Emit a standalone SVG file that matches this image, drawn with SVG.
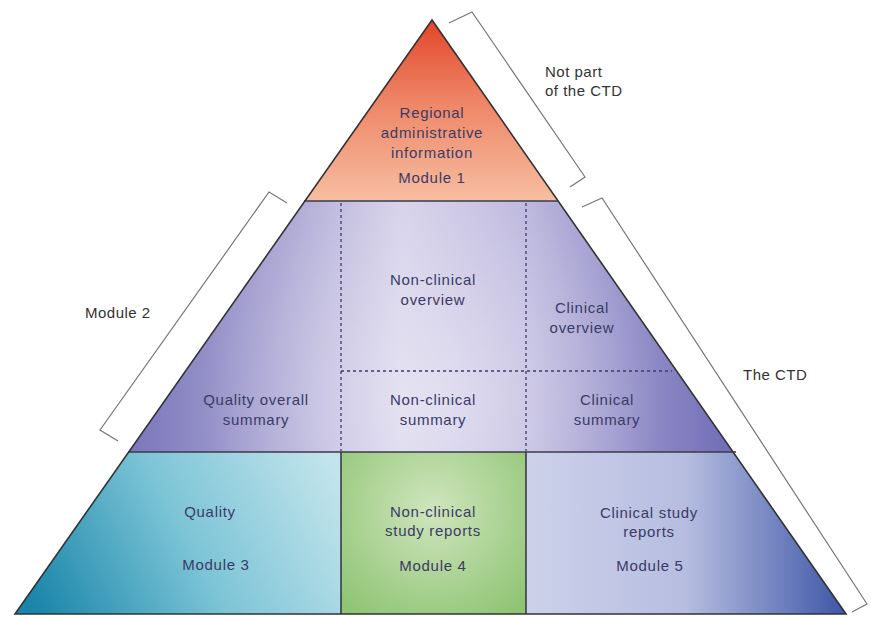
<svg xmlns="http://www.w3.org/2000/svg" width="871" height="617" viewBox="0 0 871 617">
<defs>
  <clipPath id="tri"><polygon points="432,20 15,614 846,614"/></clipPath>
  <linearGradient id="gTop" x1="0" y1="20" x2="0" y2="201" gradientUnits="userSpaceOnUse">
    <stop offset="0" stop-color="#e2452a"/>
    <stop offset="0.45" stop-color="#ee8566"/>
    <stop offset="1" stop-color="#f7bea1"/>
  </linearGradient>
  <linearGradient id="gMid" x1="128" y1="0" x2="736" y2="0" gradientUnits="userSpaceOnUse">
    <stop offset="0" stop-color="#7a76ba"/>
    <stop offset="0.25" stop-color="#aba6d3"/>
    <stop offset="0.45" stop-color="#d6d2ea"/>
    <stop offset="0.65" stop-color="#bdb8de"/>
    <stop offset="1" stop-color="#6f6bb5"/>
  </linearGradient>
  <radialGradient id="gMidHi" cx="430" cy="400" r="230" gradientUnits="userSpaceOnUse">
    <stop offset="0" stop-color="#f0eef7" stop-opacity="0.6"/>
    <stop offset="1" stop-color="#f0eef7" stop-opacity="0"/>
  </radialGradient>
  <linearGradient id="gQ" x1="40" y1="614" x2="330" y2="460" gradientUnits="userSpaceOnUse">
    <stop offset="0" stop-color="#1a86aa"/>
    <stop offset="0.5" stop-color="#7cc4d6"/>
    <stop offset="1" stop-color="#c3e4ec"/>
  </linearGradient>
  <radialGradient id="gN" cx="433" cy="510" r="130" gradientUnits="userSpaceOnUse">
    <stop offset="0" stop-color="#cfe5bd"/>
    <stop offset="1" stop-color="#8fc473"/>
  </radialGradient>
  <linearGradient id="gC" x1="526" y1="0" x2="846" y2="0" gradientUnits="userSpaceOnUse">
    <stop offset="0" stop-color="#cdd2ea"/>
    <stop offset="0.5" stop-color="#b6bde0"/>
    <stop offset="1" stop-color="#3d56a6"/>
  </linearGradient>
</defs>
<style>
  .t{font-family:"Liberation Sans",Arial,sans-serif;font-size:15px;letter-spacing:0.7px;fill:#3a3b66;text-anchor:middle}
  .o{font-family:"Liberation Sans",Arial,sans-serif;font-size:15px;letter-spacing:0.5px;fill:#333}
  .dash{stroke:#3d3d66;stroke-width:1.3;stroke-dasharray:3 3;fill:none}
  .line{stroke:#3a3a4a;stroke-width:1.6;fill:none}
  .br{stroke:#777;stroke-width:1.2;fill:none}
</style>
<rect width="871" height="617" fill="#ffffff"/>

<g clip-path="url(#tri)">
  <g id="module1"><rect x="0" y="0" width="871" height="201" fill="url(#gTop)"/></g>
  <g id="module2">
    <rect x="0" y="201" width="871" height="251" fill="url(#gMid)"/>
    <rect x="0" y="201" width="871" height="251" fill="url(#gMidHi)"/>
  </g>
  <g id="module3"><rect x="0" y="452" width="341" height="165" fill="url(#gQ)"/></g>
  <g id="module4"><rect x="341" y="452" width="185" height="165" fill="url(#gN)"/></g>
  <g id="module5"><rect x="526" y="452" width="345" height="165" fill="url(#gC)"/></g>
</g>

<g id="connectors">
  <line class="line" x1="304" y1="201" x2="558" y2="201"/>
  <line class="line" x1="128" y1="452" x2="736" y2="452"/>
  <line class="line" x1="341" y1="452" x2="341" y2="614"/>
  <line class="line" x1="526" y1="452" x2="526" y2="614"/>
  <line class="dash" x1="341" y1="203" x2="341" y2="451"/>
  <line class="dash" x1="526" y1="203" x2="526" y2="451"/>
  <line class="dash" x1="341" y1="371" x2="672" y2="371"/>
  <polygon points="432,20 15,614 846,614" fill="none" stroke="#333" stroke-width="1.6"/>
  <polyline class="br" points="449,23 472,12 585,177 570,187"/>
  <polyline class="br" points="287,203 269,192 100,430 118,441"/>
  <polyline class="br" points="582,207 602,198 867,604 852,612"/>
</g>

<g id="labels-outside">
  <text class="o" x="545" y="77">Not part</text>
  <text class="o" x="545" y="96">of the CTD</text>
  <text class="o" x="85" y="318">Module 2</text>
  <text class="o" x="743" y="380">The CTD</text>
</g>

<g id="n-module1">
  <text class="t" x="432" y="118">Regional</text>
  <text class="t" x="432" y="138">administrative</text>
  <text class="t" x="432" y="158">information</text>
  <text class="t" x="432" y="183">Module 1</text>
</g>
<g id="n-nonclinical-overview">
  <text class="t" x="433" y="285">Non-clinical</text>
  <text class="t" x="433" y="305">overview</text>
</g>
<g id="n-clinical-overview">
  <text class="t" x="582" y="313">Clinical</text>
  <text class="t" x="582" y="333">overview</text>
</g>
<g id="n-quality-summary">
  <text class="t" x="256" y="405">Quality overall</text>
  <text class="t" x="256" y="425">summary</text>
</g>
<g id="n-nonclinical-summary">
  <text class="t" x="433" y="405">Non-clinical</text>
  <text class="t" x="433" y="425">summary</text>
</g>
<g id="n-clinical-summary">
  <text class="t" x="607" y="405">Clinical</text>
  <text class="t" x="607" y="425">summary</text>
</g>
<g id="n-module3">
  <text class="t" x="210" y="517">Quality</text>
  <text class="t" x="216" y="570">Module 3</text>
</g>
<g id="n-module4">
  <text class="t" x="433" y="517">Non-clinical</text>
  <text class="t" x="433" y="536">study reports</text>
  <text class="t" x="433" y="571">Module 4</text>
</g>
<g id="n-module5">
  <text class="t" x="649" y="518">Clinical study</text>
  <text class="t" x="649" y="537">reports</text>
  <text class="t" x="650" y="571">Module 5</text>
</g>
</svg>
